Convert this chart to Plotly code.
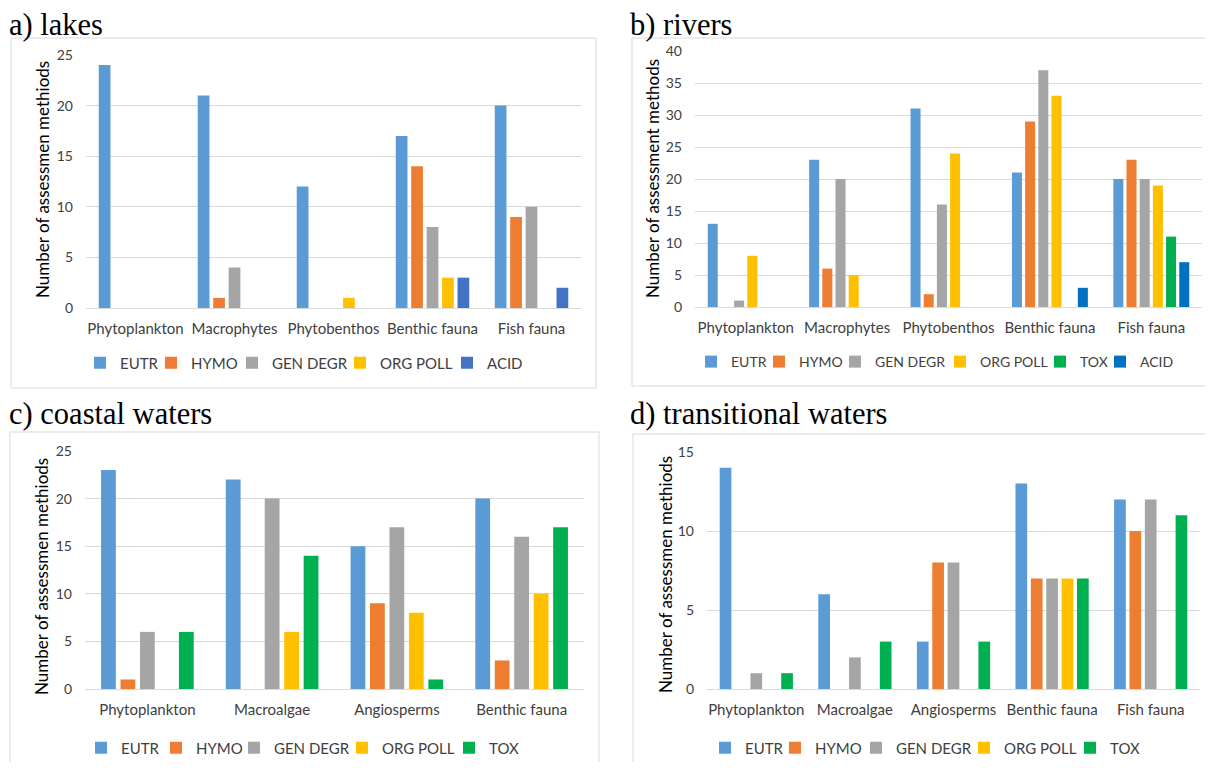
import plotly.graph_objects as go

# ---------------- data ----------------
series_names = ["EUTR", "HYMO", "GEN DEGR", "ORG POLL", "TOX", "ACID"]

lakes_categories = ["Phytoplankton", "Macrophytes", "Phytobenthos", "Benthic fauna", "Fish fauna"]
lakes_eutr = [24, 21, 12, 17, 20]
lakes_hymo = [0, 1, 0, 14, 9]
lakes_gen_degr = [0, 4, 0, 8, 10]
lakes_org_poll = [0, 0, 1, 3, 0]
lakes_acid = [0, 0, 0, 3, 2]

rivers_categories = ["Phytoplankton", "Macrophytes", "Phytobenthos", "Benthic fauna", "Fish fauna"]
rivers_eutr = [13, 23, 31, 21, 20]
rivers_hymo = [0, 6, 2, 29, 23]
rivers_gen_degr = [1, 20, 16, 37, 20]
rivers_org_poll = [8, 5, 24, 33, 19]
rivers_tox = [0, 0, 0, 0, 11]
rivers_acid = [0, 0, 0, 3, 7]

coastal_categories = ["Phytoplankton", "Macroalgae", "Angiosperms", "Benthic fauna"]
coastal_eutr = [23, 22, 15, 20]
coastal_hymo = [1, 0, 9, 3]
coastal_gen_degr = [6, 20, 17, 16]
coastal_org_poll = [0, 6, 8, 10]
coastal_tox = [6, 14, 1, 17]

trans_categories = ["Phytoplankton", "Macroalgae", "Angiosperms", "Benthic fauna", "Fish fauna"]
trans_eutr = [14, 6, 3, 13, 12]
trans_hymo = [0, 0, 8, 7, 10]
trans_gen_degr = [1, 2, 8, 7, 12]
trans_org_poll = [0, 0, 0, 7, 0]
trans_tox = [1, 3, 3, 7, 11]

panel_titles = ["a) lakes", "b) rivers", "c) coastal waters", "d) transitional waters"]
yaxis_titles = ["Number of assessmen methiods", "Number of assessment methods",
                "Number of assessmen methiods", "Number of assessmen methiods"]

# ---------------- styling ----------------
# the page body has an 8 px margin, so the figure is drawn 16 px smaller and
# all reference pixel positions are shifted by that margin
OFF = 8
W, H = 1213 - 2 * OFF, 770 - 2 * OFF
COL = {"EUTR": "#5B9BD5", "HYMO": "#ED7D31", "GEN DEGR": "#A5A5A5",
       "ORG POLL": "#FFC000", "TOX": "#00B050"}
ACID_LAKES = "#4472C4"
ACID_RIVERS = "#0070C0"
SANS = "Lato"
SERIF = "Liberation Serif"
TXT = "#404040"


def px(x):
    return (x - OFF) / W


def py(y):
    return 1 - (y - OFF) / H


fig = go.Figure()

panels = [
    dict(cats=lakes_categories,
         series=[("EUTR", lakes_eutr, COL["EUTR"]), ("HYMO", lakes_hymo, COL["HYMO"]),
                 ("GEN DEGR", lakes_gen_degr, COL["GEN DEGR"]), ("ORG POLL", lakes_org_poll, COL["ORG POLL"]),
                 ("ACID", lakes_acid, ACID_LAKES)]),
    dict(cats=rivers_categories,
         series=[("EUTR", rivers_eutr, COL["EUTR"]), ("HYMO", rivers_hymo, COL["HYMO"]),
                 ("GEN DEGR", rivers_gen_degr, COL["GEN DEGR"]), ("ORG POLL", rivers_org_poll, COL["ORG POLL"]),
                 ("TOX", rivers_tox, COL["TOX"]), ("ACID", rivers_acid, ACID_RIVERS)]),
    dict(cats=coastal_categories,
         series=[("EUTR", coastal_eutr, COL["EUTR"]), ("HYMO", coastal_hymo, COL["HYMO"]),
                 ("GEN DEGR", coastal_gen_degr, COL["GEN DEGR"]), ("ORG POLL", coastal_org_poll, COL["ORG POLL"]),
                 ("TOX", coastal_tox, COL["TOX"])]),
    dict(cats=trans_categories,
         series=[("EUTR", trans_eutr, COL["EUTR"]), ("HYMO", trans_hymo, COL["HYMO"]),
                 ("GEN DEGR", trans_gen_degr, COL["GEN DEGR"]), ("ORG POLL", trans_org_poll, COL["ORG POLL"]),
                 ("TOX", trans_tox, COL["TOX"])]),
]

# pixel geometry per panel; leg_w = legend entry widths (spacing between legend symbols minus 45 px)
geo = [
    dict(x0=86, x1=581, ytop=55, ybot=308, ymax=25, leg_x=80, leg_y=363, leg_font=15,
         leg_w=[26, 36, 63, 62, 30],
         title_xy=(7, 25), ytitle_xy=(42, 180), frame=(11, 38, 596, 388)),
    dict(x0=695, x1=1202, ytop=51, ybot=307, ymax=40, leg_x=691, leg_y=362, leg_font=14,
         leg_w=[23, 31, 60, 55, 15, 30],
         title_xy=(628, 25), ytitle_xy=(652, 179), frame=(632, 38, 1216, 386)),
    dict(x0=85, x1=584, ytop=451, ybot=689, ymax=25, leg_x=81, leg_y=748, leg_font=15,
         leg_w=[30, 33, 63, 62, 30],
         title_xy=(7, 414), ytitle_xy=(41, 577), frame=(10, 432, 599, 775)),
    dict(x0=707, x1=1200, ytop=452, ybot=689, ymax=15, leg_x=705, leg_y=748, leg_font=15,
         leg_w=[25, 36, 63, 61, 30],
         title_xy=(628, 414), ytitle_xy=(665, 575), frame=(633, 434, 1216, 775)),
]

layout = dict(
    width=W, height=H, margin=dict(l=0, r=0, t=0, b=0, autoexpand=False),
    paper_bgcolor="white", plot_bgcolor="white",
    barmode="group", bargap=0.22, bargroupgap=0.24,
    font=dict(family=SANS, color=TXT, size=14),
    annotations=[], shapes=[],
)

for i, (p, g) in enumerate(zip(panels, geo)):
    n = i + 1
    xa = "x" if n == 1 else f"x{n}"
    ya = "y" if n == 1 else f"y{n}"
    leg = "legend" if n == 1 else f"legend{n}"
    for k, (name, vals, color) in enumerate(p["series"]):
        fig.add_trace(go.Bar(
            x=p["cats"], y=vals, name=name, xaxis=xa, yaxis=ya, legend=leg,
            legendwidth=g["leg_w"][k],
            marker=dict(color=color, line=dict(width=0)),
        ))
    layout[f"xaxis{'' if n == 1 else n}"] = dict(
        domain=[px(g["x0"]), px(g["x1"])], anchor=ya, showgrid=False, showline=False,
        zeroline=False, ticks="", tickfont=dict(size=15, color=TXT, family=SANS),
        ticklabelstandoff=10, fixedrange=True,
    )
    layout[f"yaxis{'' if n == 1 else n}"] = dict(
        domain=[py(g["ybot"]), py(g["ytop"])], anchor=xa, range=[0, g["ymax"]],
        dtick=5, showgrid=True, gridcolor="#D9D9D9", gridwidth=1,
        zeroline=True, zerolinecolor="#D9D9D9", zerolinewidth=1,
        showline=False, ticks="", tickfont=dict(size=14, color=TXT, family=SANS),
        ticklabelstandoff=12, fixedrange=True,
    )
    layout[leg] = dict(
        orientation="h", x=px(g["leg_x"]), y=py(g["leg_y"]), xanchor="left", yanchor="middle",
        font=dict(size=g["leg_font"], color=TXT, family=SANS), bgcolor="rgba(0,0,0,0)",
        itemwidth=30, tracegroupgap=0,
    )
    fx0, fy0, fx1, fy1 = g["frame"]
    layout["shapes"].append(dict(
        type="rect", xref="paper", yref="paper",
        x0=px(fx0), x1=px(fx1), y0=py(fy1), y1=py(fy0),
        line=dict(color="#D9D9D9", width=1), fillcolor="rgba(0,0,0,0)", layer="below",
    ))
    tx, ty = g["title_xy"]
    layout["annotations"].append(dict(
        text=panel_titles[i], xref="paper", yref="paper", x=px(tx), y=py(ty),
        xanchor="left", yanchor="middle", showarrow=False,
        font=dict(family=SERIF, size=30.5, color="black"),
    ))
    yx, yy = g["ytitle_xy"]
    layout["annotations"].append(dict(
        text=yaxis_titles[i], xref="paper", yref="paper", x=px(yx), y=py(yy),
        xanchor="center", yanchor="middle", showarrow=False, textangle=-90,
        font=dict(family=SANS, size=17, color="black"),
    ))

fig.update_layout(**layout)
fig.write_html("out.html")
